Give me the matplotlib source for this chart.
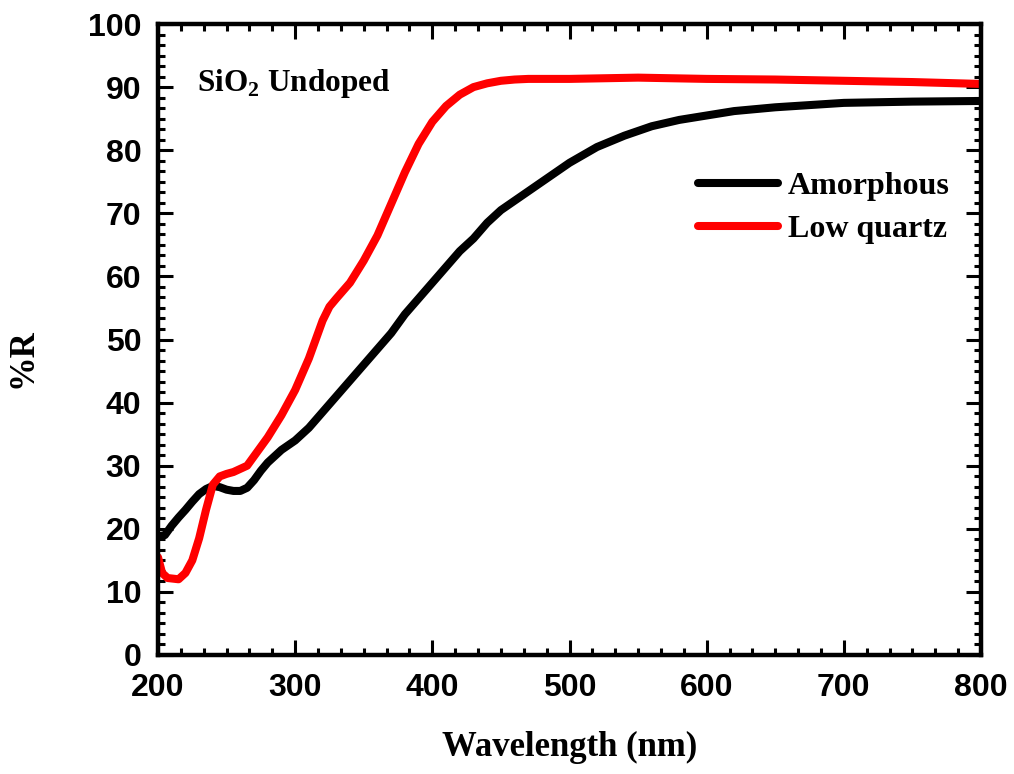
import numpy as np
import matplotlib
matplotlib.use('Agg')
import matplotlib.pyplot as plt
from matplotlib.ticker import MultipleLocator, AutoMinorLocator

# Reflectance spectra of undoped SiO2
wl_amorfo = [200, 205, 210, 215, 220, 225, 230, 235, 240, 245, 250, 255, 260, 265, 270, 275, 280,
             290, 300, 310, 320, 330, 340, 350, 360, 370, 380, 390, 400, 410, 420, 430, 440,
             450, 460, 470, 480, 490, 500, 520, 540, 560, 580, 600, 620, 650, 700, 750, 800]
r_amorfo = [18.8, 19.0, 20.5, 21.8, 23.0, 24.3, 25.5, 26.3, 26.8, 26.6, 26.2, 26.0, 26.0, 26.5, 27.7, 29.2, 30.5,
            32.5, 34.0, 36.0, 38.5, 41.0, 43.5, 46.0, 48.5, 51.0, 54.0, 56.5, 59.0, 61.5, 64.0, 66.0, 68.5,
            70.5, 72.0, 73.5, 75.0, 76.5, 78.0, 80.5, 82.3, 83.8, 84.8, 85.5, 86.2, 86.8, 87.5, 87.7, 87.8]

wl_cuarzo = [200, 203, 207, 215, 220, 225, 230, 235, 240, 245, 250, 255, 260, 265, 270, 280, 290,
             300, 310, 320, 325, 330, 340, 350, 360, 370, 380, 390, 400, 410, 420, 430, 440, 450,
             460, 470, 500, 550, 600, 650, 700, 750, 800]
r_cuarzo = [15.5, 13.0, 12.2, 12.0, 13.0, 15.0, 18.5, 23.0, 27.0, 28.3, 28.7, 29.0, 29.5, 30.0, 31.5, 34.5, 38.0,
            42.0, 47.0, 53.0, 55.2, 56.5, 59.0, 62.5, 66.5, 71.5, 76.5, 81.0, 84.5, 87.0, 88.8, 90.0, 90.6, 91.0,
            91.2, 91.3, 91.3, 91.5, 91.3, 91.2, 91.0, 90.8, 90.5]

plt.rcParams['mathtext.fontset'] = 'custom'
plt.rcParams['mathtext.rm'] = 'Liberation Serif:bold'
plt.rcParams['mathtext.bf'] = 'Liberation Serif:bold'

fig = plt.figure(figsize=(10.14, 7.74), dpi=100)
ax = fig.add_axes([158 / 1014, 1 - 655 / 774, 823 / 1014, 631 / 774])

ax.plot(wl_amorfo, r_amorfo, color='black', lw=5.8, label='Amorphous', solid_capstyle='round')
ax.plot(wl_cuarzo, r_cuarzo, color='#ff0000', lw=5.8, label='Low quartz', solid_capstyle='round')

ax.set_xlim(200, 800)
ax.set_ylim(0, 100)
ax.xaxis.set_major_locator(MultipleLocator(100))
ax.yaxis.set_major_locator(MultipleLocator(10))
ax.xaxis.set_minor_locator(AutoMinorLocator(6))
ax.yaxis.set_minor_locator(AutoMinorLocator(6))

for s in ax.spines.values():
    s.set_linewidth(3.2)
ax.tick_params(which='both', direction='in', top=True, right=True, width=2.2)
ax.tick_params(which='major', length=10.5)
ax.tick_params(which='minor', length=5)
ax.tick_params(axis='x', pad=13)
ax.tick_params(axis='y', pad=12)
for lbl in ax.get_xticklabels() + ax.get_yticklabels():
    lbl.set_fontfamily('Liberation Sans')
    lbl.set_fontweight('bold')
    lbl.set_fontsize(23)

ax.set_xlabel('Wavelength (nm)', fontfamily='Liberation Serif', fontweight='bold', fontsize=25, labelpad=20)
ax.set_ylabel('%R', fontfamily='Liberation Serif', fontweight='bold', fontsize=25)
ax.yaxis.set_label_coords(-0.144, 0.47)

ax.text(0.047, 0.905, r'SiO$_{\mathrm{2}}$ Undoped', transform=ax.transAxes,
        fontfamily='Liberation Serif', fontweight='bold', fontsize=22.5, va='center')

ax.legend(loc='upper right', bbox_to_anchor=(0.962, 0.766), frameon=False,
          prop={'family': 'Liberation Serif', 'weight': 'bold', 'size': 23},
          handlelength=2.5, handletextpad=0.3, labelspacing=0.42,
          borderpad=0, borderaxespad=0)

fig.savefig('out.png', dpi=100)
